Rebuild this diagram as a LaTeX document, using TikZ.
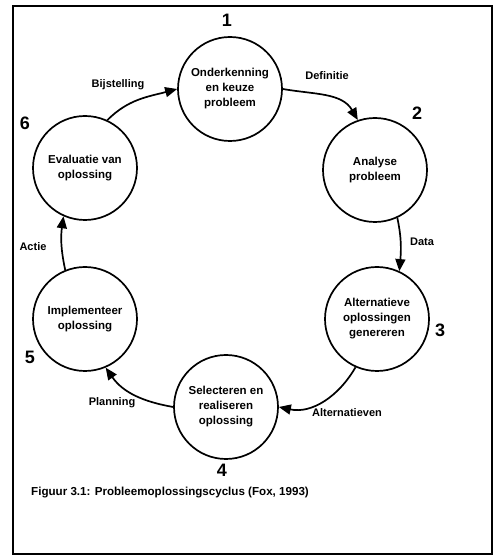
\documentclass[tikz,border=0pt]{standalone}
\usepackage{fontspec}
\setmainfont{Liberation Sans}
\usetikzlibrary{arrows.meta}
\begin{document}
\begin{tikzpicture}[x=1pt,y=1pt,
  stage/.style={circle,draw,line width=1.7pt,minimum size=104pt,inner sep=0pt,
    align=center,font=\fontsize{11.5}{15}\selectfont\bfseries},
  num/.style={font=\fontsize{18}{18}\selectfont\bfseries},
  lbl/.style={font=\fontsize{11}{13}\selectfont\bfseries},
  flow/.style={line width=1.7pt,-{Triangle[length=12pt,width=10pt]}}]
\useasboundingbox (0,0) rectangle (500,556);
\fill[white] (0,0) rectangle (500,556);
\draw[line width=1.8pt] (13,2) rectangle (492,550);

% the six stages of the cycle
\node[stage] (c1) at (230,467) {Onderkenning\\en keuze\\probleem};
\node[stage] (c2) at (375,386) {Analyse\\probleem};
\node[stage] (c3) at (377,237) {Alternatieve\\oplossingen\\genereren};
\node[stage] (c4) at (226,149) {Selecteren en\\realiseren\\oplossing};
\node[stage] (c5) at (85,237) {Implementeer\\oplossing};
\node[stage] (c6) at (85,388) {Evaluatie van\\oplossing};

% stage numbers
\node[num] (n1) at (227,536) {1};
\node[num] (n2) at (417,443) {2};
\node[num] (n3) at (440,226) {3};
\node[num] (n4) at (222,86) {4};
\node[num] (n5) at (30,199) {5};
\node[num] (n6) at (25,433) {6};

% transitions
\draw[flow] (c6.65) to[out=45,in=195] (c1.180);
\draw[flow] (c1.0) to[out=-10,in=120] (c2.109);
\draw[flow] (c2.-65) to[out=-78,in=85] (c3.65);
\draw[flow] (c3.-114) to[out=-120,in=-12] (c4.0);
\draw[flow] (c4.180) to[out=170,in=-55] (c5.-67);
\draw[flow] (c5.112) to[out=102,in=-98] (c6.-114);

% transition labels
\node[lbl] (lb) at (118,471) {Bijstelling};
\node[lbl] (ld) at (327,480) {Definitie};
\node[lbl] (lda) at (422,314) {Data};
\node[lbl] (lal) at (347,143) {Alternatieven};
\node[lbl] (lp) at (112,153) {Planning};
\node[lbl] (la) at (33,309) {Actie};

% caption
\node[anchor=west,inner sep=0pt,font=\fontsize{11.6}{13}\selectfont\bfseries] (cap) at (31,63)
  {Figuur 3.1: Probleemoplossingscyclus (Fox, 1993)};
\end{tikzpicture}
\end{document}
